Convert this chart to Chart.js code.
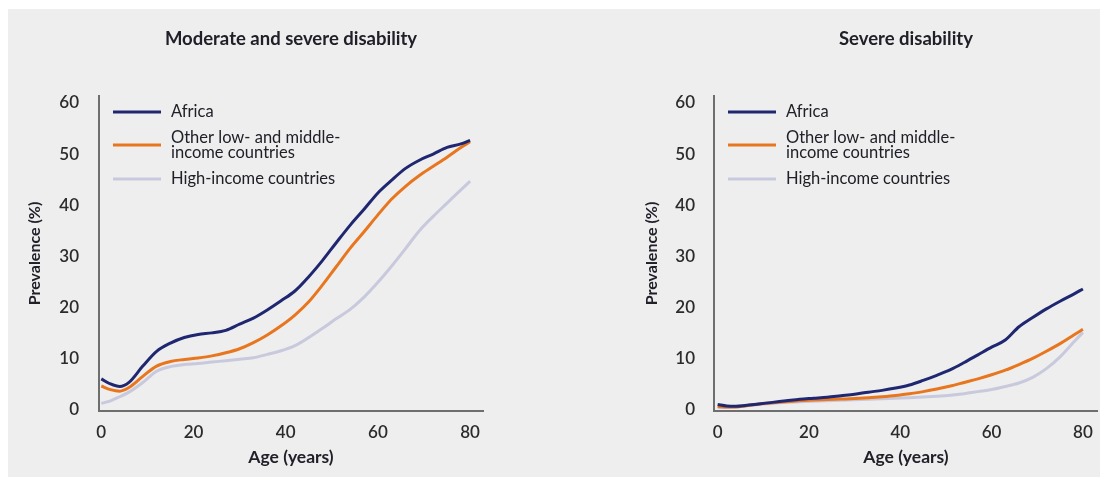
<!DOCTYPE html>
<html>
<head>
<meta charset="utf-8">
<script src="https://cdn.jsdelivr.net/npm/chart.js@4.4.1/dist/chart.umd.min.js"></script>
<style>
  html, body { margin: 0; padding: 0; width: 1104px; height: 480px; overflow: hidden; background: #ffffff; }
  #panel { position: absolute; left: 8px; top: 9px; width: 1092px; height: 468px; background: #eeeeee; }
  #modsev { position: absolute; left: 0; top: 0; }
  #severe { position: absolute; left: 560px; top: 0; }
</style>
</head>
<body>
<div id="panel"></div>
<canvas id="modsev" width="560" height="480"></canvas>
<canvas id="severe" width="544" height="480"></canvas>
<script>
// Age in years (x) and prevalence in percent (y)
const ages = [0, 2, 4, 6, 9, 12, 15, 18, 21, 24, 27, 30, 33, 36, 39, 42, 45, 48, 51, 54, 57, 60, 63, 66, 69, 72, 75, 78, 80];
const xTicks = [0, 20, 40, 60, 80];
const yTicks = [0, 10, 20, 30, 40, 50, 60];

const seriesNames = ['Africa', 'Other low- and middle-income countries', 'High-income countries'];
const keyLines = [['Africa'], ['Other low- and middle-', 'income countries'], ['High-income countries']];
const seriesColors = ['#1f2770', '#e8761f', '#c9c9dd'];

// Moderate and severe disability
const modSevAfrica = [6.0, 5.0, 4.5, 5.3, 8.5, 11.4, 13.0, 14.1, 14.7, 15.0, 15.5, 16.7, 17.9, 19.5, 21.3, 23.2, 26.0, 29.2, 32.7, 36.1, 39.2, 42.4, 44.9, 47.2, 48.8, 50.0, 51.3, 52.0, 52.7];
const modSevOtherLMIC = [4.6, 3.9, 3.6, 4.3, 6.5, 8.5, 9.4, 9.8, 10.1, 10.5, 11.1, 11.9, 13.1, 14.6, 16.4, 18.5, 21.1, 24.4, 28.0, 31.6, 34.8, 38.1, 41.2, 43.7, 45.8, 47.6, 49.4, 51.3, 52.4];
const modSevHighIncome = [1.2, 1.7, 2.5, 3.4, 5.3, 7.5, 8.4, 8.8, 9.0, 9.3, 9.55, 9.85, 10.15, 10.8, 11.5, 12.5, 14.1, 15.9, 17.8, 19.6, 22.0, 24.9, 28.1, 31.5, 35.0, 37.8, 40.4, 43.0, 44.7];

// Severe disability
const sevAfrica = [1.0, 0.7, 0.65, 0.8, 1.1, 1.4, 1.7, 2.0, 2.2, 2.4, 2.7, 3.0, 3.4, 3.75, 4.2, 4.8, 5.7, 6.7, 7.8, 9.2, 10.7, 12.2, 13.6, 16.2, 18.0, 19.7, 21.2, 22.6, 23.6];
const sevOtherLMIC = [0.6, 0.5, 0.5, 0.7, 1.1, 1.3, 1.5, 1.7, 1.85, 1.95, 2.05, 2.15, 2.3, 2.5, 2.75, 3.1, 3.5, 4.0, 4.6, 5.3, 6.0, 6.8, 7.7, 8.8, 10.0, 11.4, 12.9, 14.6, 15.7];
const sevHighIncome = [0.4, 0.4, 0.5, 0.7, 1.0, 1.2, 1.4, 1.5, 1.6, 1.7, 1.8, 1.9, 2.0, 2.1, 2.2, 2.3, 2.45, 2.6, 2.8, 3.1, 3.5, 3.9, 4.5, 5.2, 6.3, 8.0, 10.3, 13.2, 15.1];

const FONT = "Lato, 'Liberation Sans', sans-serif";
const TEXT = '#202028';

// Series key drawn inside the plot area, top-left
const seriesKey = {
  id: 'seriesKey',
  afterDraw(chart) {
    const { ctx, chartArea } = chart;
    const rowY = [16, 49, 83];
    chart.data.datasets.forEach((ds, i) => {
      const y = chartArea.top + rowY[i];
      ctx.save();
      ctx.strokeStyle = ds.borderColor;
      ctx.lineWidth = 3;
      ctx.beginPath();
      ctx.moveTo(chartArea.left + 14, y);
      ctx.lineTo(chartArea.left + 62, y);
      ctx.stroke();
      ctx.fillStyle = TEXT;
      ctx.font = '16.5px ' + FONT;
      ctx.textBaseline = 'middle';
      ctx.textAlign = 'left';
      const lines = keyLines[i];
      const lh = 15;
      lines.forEach((t, k) => {
        ctx.fillText(t, chartArea.left + 72, y + (k - (lines.length - 1) / 2) * lh);
      });
      ctx.restore();
    });
  }
};

function makeChart(id, title, values, g) {
  return new Chart(document.getElementById(id), {
    type: 'line',
    data: {
      datasets: values.map((v, i) => ({
        label: seriesNames[i],
        data: ages.map((a, k) => ({ x: a, y: v[k] })),
        borderColor: seriesColors[i],
        backgroundColor: seriesColors[i],
        borderWidth: 3,
        pointRadius: 0,
        cubicInterpolationMode: 'monotone',
        fill: false
      }))
    },
    options: {
      responsive: false,
      animation: false,
      events: [],
      layout: { padding: { left: 0, right: g.padRight, top: 0, bottom: 9 } },
      plugins: {
        legend: { display: false },
        tooltip: { enabled: false },
        title: {
          display: true,
          text: title,
          fullSize: false,
          color: TEXT,
          font: { family: FONT, size: 18.5, weight: 'bold' },
          padding: { top: 28, bottom: 45.8 }
        }
      },
      scales: {
        x: {
          type: 'linear',
          min: g.xMin,
          max: g.xMax,
          afterBuildTicks: s => { s.ticks = xTicks.map(v => ({ value: v })); },
          afterFit: s => { s.height = 60; },
          grid: { display: false, drawTicks: false },
          border: { display: true, color: '#6e6e6e', width: 2 },
          ticks: { padding: 11, color: '#2b2b2b', font: { family: FONT, size: 17, weight: 600 } },
          title: {
            display: true,
            text: 'Age (years)',
            color: TEXT,
            font: { family: FONT, size: 17.5, weight: 'bold' },
            padding: { top: 0, bottom: 3 }
          }
        },
        y: {
          type: 'linear',
          min: -0.29,
          max: 61.37,
          afterBuildTicks: s => { s.ticks = yTicks.map(v => ({ value: v })); },
          afterFit: s => { s.width = g.plotLeft; },
          grid: { display: false, drawTicks: false },
          border: { display: true, color: '#6e6e6e', width: 2 },
          ticks: { padding: g.yTickPad, color: '#2b2b2b', font: { family: FONT, size: 17, weight: 600 } },
          title: {
            display: true,
            text: 'Prevalence (%)',
            color: TEXT,
            font: { family: FONT, size: 16, weight: 'bold' },
            padding: { top: g.yTitlePad, bottom: 0 }
          }
        }
      }
    },
    plugins: [seriesKey]
  });
}

makeChart('modsev', 'Moderate and severe disability',
  [modSevAfrica, modSevOtherLMIC, modSevHighIncome],
  { plotLeft: 99, padRight: 77, xMin: -0.5, xMax: 82.8, yTickPad: 20, yTitlePad: 25.5 });

makeChart('severe', 'Severe disability',
  [sevAfrica, sevOtherLMIC, sevHighIncome],
  { plotLeft: 154, padRight: 4, xMin: -0.8, xMax: 83.3, yTickPad: 19, yTitlePad: 82.5 });
</script>
</body>
</html>
